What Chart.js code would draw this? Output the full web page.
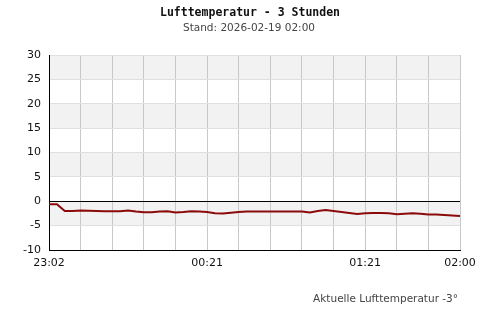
<!DOCTYPE html>
<html>
<head>
<meta charset="utf-8">
<script src="https://cdn.jsdelivr.net/npm/chart.js@4/dist/chart.umd.min.js"></script>
<style>
html,body{margin:0;padding:0;background:#fff;}
canvas{display:block;}
</style>
</head>
<body>
<canvas id="c" width="500" height="320"></canvas>
<script>
const chartTitle = "Lufttemperatur - 3 Stunden";
const chartSubtitle = "Stand: 2026-02-19 02:00";
const footerText = "Aktuelle Lufttemperatur -3°";
const shownTimes = {0: "23:02", 20: "00:21", 40: "01:21", 52: "02:00"};
const temperature = [
  -0.6, -0.6, -2.0, -2.0, -1.9, -1.95, -2.0, -2.05, -2.05, -2.05,
  -1.9, -2.1, -2.25, -2.25, -2.1, -2.05, -2.3, -2.2, -2.05, -2.1,
  -2.2, -2.45, -2.5, -2.35, -2.2, -2.1, -2.1, -2.1, -2.1, -2.1,
  -2.1, -2.1, -2.1, -2.3, -2.0, -1.8, -2.0, -2.2, -2.4, -2.6,
  -2.45, -2.4, -2.4, -2.45, -2.65, -2.55, -2.45, -2.55, -2.7, -2.7,
  -2.8, -2.9, -3.05
];
const timeLabels = temperature.map((v, i) => shownTimes[i] || "");
const yMin = -10, yMax = 30, yStep = 5;

const bandsPlugin = {
  id: 'bands',
  beforeDraw(chart) {
    const {ctx, chartArea, scales} = chart;
    const y = scales.y;
    ctx.save();
    ctx.fillStyle = '#f2f2f2';
    for (let v = yMin; v < yMax; v += yStep) {
      const idx = Math.round((v - yMin) / yStep);
      if (idx % 2 === 1) {
        const top = y.getPixelForValue(v + yStep);
        const bot = y.getPixelForValue(v);
        ctx.fillRect(chartArea.left, top, chartArea.right - chartArea.left, bot - top);
      }
    }
    ctx.restore();
  }
};

const textPlugin = {
  id: 'texts',
  afterDraw(chart) {
    const ctx = chart.ctx;
    ctx.save();
    ctx.textAlign = 'center';
    ctx.textBaseline = 'middle';
    ctx.fillStyle = '#111';
    ctx.font = 'bold 11.5px "DejaVu Sans Mono"';
    ctx.fillText(chartTitle, 250, 13);
    ctx.fillStyle = '#444';
    ctx.font = '10.5px "DejaVu Sans"';
    ctx.fillText(chartSubtitle, 249, 28);
    ctx.textAlign = 'right';
    ctx.fillText(footerText, 458, 299);
    ctx.restore();
  }
};

new Chart(document.getElementById('c'), {
  type: 'line',
  data: {
    labels: timeLabels,
    datasets: [{
      data: temperature,
      borderColor: '#8b0a0a',
      borderWidth: 2,
      pointRadius: 0,
      tension: 0,
      fill: false
    }]
  },
  options: {
    responsive: false,
    animation: false,
    devicePixelRatio: 1,
    layout: {padding: {top: 55, right: 40, bottom: 40, left: 0}},
    plugins: {legend: {display: false}, tooltip: {enabled: false}, title: {display: false}},
    scales: {
      x: {
        type: 'category',
        offset: false,
        afterFit(s) { s.height = 30; },
        border: {display: true, color: '#000', width: 1},
        grid: {
          drawTicks: false,
          color: (c) => (c.index % 4 === 0 ? '#c8c8c8' : 'rgba(0,0,0,0)'),
          lineWidth: 1
        },
        ticks: {
          autoSkip: false,
          maxRotation: 0,
          minRotation: 0,
          padding: 7,
          color: '#111',
          font: {family: 'DejaVu Sans', size: 11},
          callback: function(val, i) { return timeLabels[i]; }
        }
      },
      y: {
        min: yMin,
        max: yMax,
        afterFit(s) { s.width = 49; },
        border: {display: true, color: '#000', width: 1},
        grid: {
          drawTicks: false,
          color: (c) => (c.tick && c.tick.value === 0 ? '#000' : '#e0e0e0'),
          lineWidth: 1
        },
        ticks: {
          stepSize: yStep,
          padding: 8,
          color: '#111',
          font: {family: 'DejaVu Sans', size: 11}
        }
      }
    }
  },
  plugins: [bandsPlugin, textPlugin]
});
</script>
</body>
</html>
